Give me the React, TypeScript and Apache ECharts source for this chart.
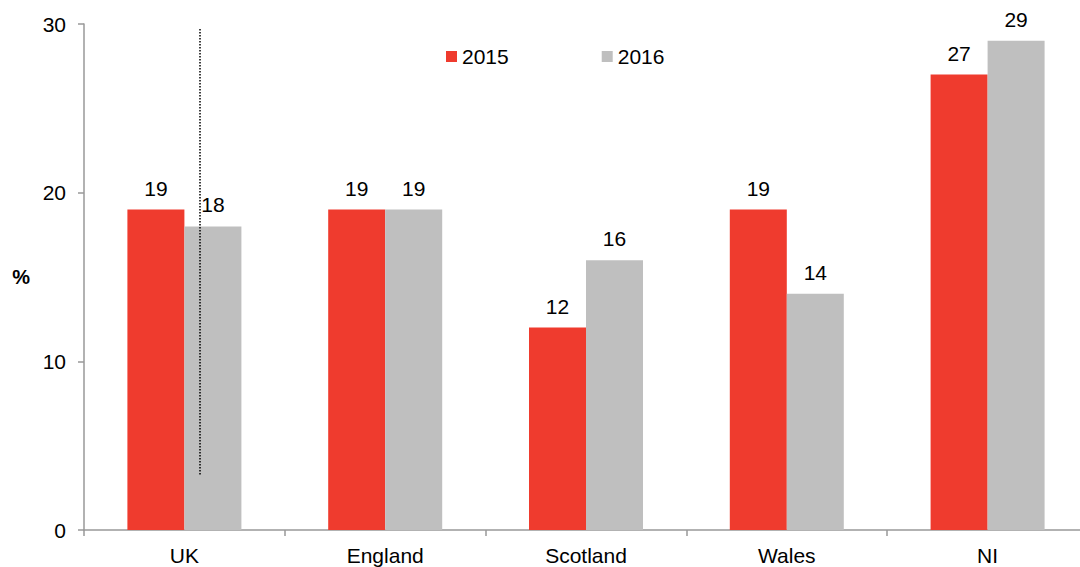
import React, { useEffect, useRef } from "react";
import * as echarts from "echarts";

const categories = ["UK", "England", "Scotland", "Wales", "NI"];
const series2015 = [19, 19, 12, 19, 27];
const series2016 = [18, 19, 16, 14, 29];
const yTicks = [0, 10, 20, 30];
const seriesNames = ["2015", "2016"];

const FONT = "'Liberation Sans', Arial, sans-serif";

export default function App() {
  const ref = useRef<HTMLDivElement>(null);
  useEffect(() => {
    if (!ref.current) return;
    const chart = echarts.init(ref.current, undefined, { renderer: "svg" });
    const labelStyle = {
      show: true,
      position: "top",
      distance: 11,
      color: "#000",
      fontSize: 21,
      fontFamily: FONT,
    };
    chart.setOption({
      animation: false,
      textStyle: { fontFamily: FONT },
      grid: { left: 84, top: 24, bottom: 37, right: 0, containLabel: false },
      legend: {
        left: 446,
        top: 46,
        padding: 0,
        itemWidth: 11,
        itemHeight: 11,
        itemGap: 93,
        icon: "rect",
        textStyle: { fontSize: 21, color: "#000", fontFamily: FONT },
        data: seriesNames,
      },
      xAxis: {
        type: "category",
        data: categories,
        boundaryGap: true,
        axisLine: { lineStyle: { color: "#999", width: 1.5 } },
        axisTick: { show: true, length: 6, alignWithLabel: false, lineStyle: { color: "#999", width: 1.5 } },
        axisLabel: { color: "#000", fontSize: 21, fontFamily: FONT, margin: 15 },
      },
      yAxis: {
        type: "value",
        min: yTicks[0],
        max: yTicks[yTicks.length - 1],
        interval: 10,
        name: "%",
        nameLocation: "middle",
        nameRotate: 0,
        nameGap: 54,
        nameTextStyle: { fontSize: 20, fontWeight: "bold", color: "#000", fontFamily: FONT },
        axisLine: { show: true, lineStyle: { color: "#999", width: 1.5 } },
        axisTick: { show: true, length: 6, lineStyle: { color: "#999", width: 1.5 } },
        axisLabel: { color: "#000", fontSize: 21, fontFamily: FONT, margin: 18 },
        splitLine: { show: false },
      },
      series: [
        {
          name: seriesNames[0],
          type: "bar",
          data: series2015,
          barWidth: 57,
          barGap: "0%",
          itemStyle: { color: "#EF3B2E" },
          label: labelStyle,
        },
        {
          name: seriesNames[1],
          type: "bar",
          data: series2016,
          barWidth: 57,
          barGap: "0%",
          itemStyle: { color: "#BFBFBF" },
          label: labelStyle,
        },
      ],
      graphic: [
        {
          type: "line",
          shape: { x1: 200, y1: 29, x2: 200, y2: 476 },
          style: { stroke: "#000", lineWidth: 1.5, lineDash: [1.5, 1.5] },
          z: 100,
        },
      ],
    });
    return () => chart.dispose();
  }, []);
  return (
    <div
      style={{ position: "absolute", left: 0, top: 0, width: 1080, height: 567, overflow: "hidden" }}
    >
      <div ref={ref} style={{ width: 1088, height: 567 }} />
    </div>
  );
}
